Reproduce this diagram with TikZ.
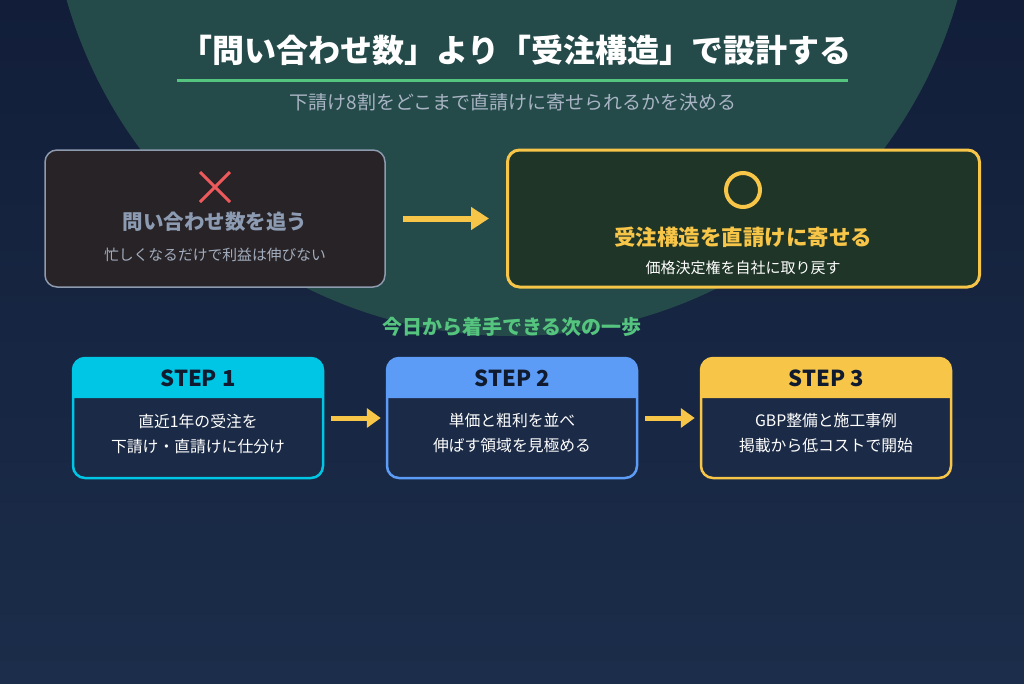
\documentclass[tikz,border=0pt]{standalone}
\usepackage{fontspec}
\setmainfont{Noto Sans CJK JP}
\usetikzlibrary{arrows.meta}
\definecolor{bgtop}{HTML}{121E39}
\definecolor{bgbot}{HTML}{1B2D4A}
\definecolor{tealc}{HTML}{244A4A}
\definecolor{greenc}{HTML}{55C47E}
\definecolor{subc}{HTML}{A9B4C4}
\definecolor{leftfill}{HTML}{272327}
\definecolor{leftdraw}{HTML}{8E9AAE}
\definecolor{lefttext}{HTML}{8C9BB2}
\definecolor{leftsub}{HTML}{A3ADBD}
\definecolor{redc}{HTML}{EE5A5C}
\definecolor{rightfill}{HTML}{1F3527}
\definecolor{yel}{HTML}{F7C548}
\definecolor{cyanc}{HTML}{00C6E6}
\definecolor{bluec}{HTML}{5C9CF6}
\definecolor{stepbg}{HTML}{1B2A46}
\definecolor{steptext}{HTML}{101B30}
\tikzset{
  x=1pt, y=-1pt,
  bigarrow/.style={draw=yel, line width=6pt, -{Triangle[length=18pt,width=22pt]}},
  smallarrow/.style={draw=yel, line width=5pt, -{Triangle[length=14pt,width=19pt]}},
  stepbox/.style={minimum width=250pt, minimum height=120pt, inner sep=0pt},
  steptitle/.style={font=\bfseries\fontsize{22}{25}\selectfont, text=steptext},
  steplines/.style={font=\fontsize{15.8}{25}\selectfont, text=white, align=center},
}
\begin{document}
\begin{tikzpicture}
\useasboundingbox (0,0) rectangle (1024,683);
\shade[top color=bgtop, bottom color=bgbot] (0,0) rectangle (1024,683);
\begin{scope}
\clip (0,0) rectangle (1024,683);
\fill[tealc] (512,-127) circle[radius=463pt];
\end{scope}

% title
\node[font=\bfseries\fontsize{32}{36}\selectfont, text=white] (title) at (516,50) {「問い合わせ数」より「受注構造」で設計する};
\draw[greenc, line width=3pt] (177,80) -- (848,80);
\node[font=\fontsize{19}{22}\selectfont, text=subc] (subtitle) at (513,102) {下請け8割をどこまで直請けに寄せられるかを決める};

% left box
\node[draw=leftdraw, fill=leftfill, line width=1.5pt, rounded corners=12pt, minimum width=340pt, minimum height=137pt, inner sep=0pt] (left) at (215,218.5) {};
\coordinate (xc) at (215,187);
\draw[redc, line width=3pt] ([shift={(-15pt,-15pt)}]xc) -- ([shift={(15pt,15pt)}]xc);
\draw[redc, line width=3pt] ([shift={(-15pt,15pt)}]xc) -- ([shift={(15pt,-15pt)}]xc);
\node[font=\bfseries\fontsize{20.5}{24}\selectfont, text=lefttext] (lt) at (215,222) {問い合わせ数を追う};
\node[font=\fontsize{14.8}{18}\selectfont, text=leftsub] (ls) at (215,255) {忙しくなるだけで利益は伸びない};

% right box
\node[draw=yel, fill=rightfill, line width=3pt, rounded corners=12pt, minimum width=472pt, minimum height=137pt, inner sep=0pt] (right) at (743.5,218.5) {};
\node[draw=yel, line width=4pt, circle, minimum size=34pt, inner sep=0pt] (okc) at (743,190) {};
\node[font=\bfseries\fontsize{21.5}{25}\selectfont, text=yel] (rt) at (743,237) {受注構造を直請けに寄せる};
\node[font=\fontsize{15}{18}\selectfont, text=white] (rs) at (743,268) {価格決定権を自社に取り戻す};

\draw[bigarrow] ([xshift=17pt]left.east) -- ([xshift=-17pt]right.west);

% next steps label
\node[font=\bfseries\fontsize{20}{23}\selectfont, text=greenc] (next) at (512,327) {今日から着手できる次の一歩};

% steps
\foreach \n/\cx/\col/\la/\lb in {1/198/cyanc/直近1年の受注を/下請け・直請けに仕分け, 2/512/bluec/単価と粗利を並べ/伸ばす領域を見極める, 3/826/yel/GBP整備と施工事例/掲載から低コストで開始}{
  \fill[stepbg, rounded corners=12pt] (\cx-125,358) rectangle (\cx+125,478);
  \fill[\col] (\cx-125,398) [rounded corners=12pt] -- (\cx-125,358) -- (\cx+125,358) [sharp corners] -- (\cx+125,398) -- cycle;
  \node[stepbox, draw=\col, line width=2.5pt, rounded corners=12pt] (s\n) at (\cx,418) {};
  \node[steptitle] (st\n) at (\cx,378) {STEP \n};
  \node[steplines] (sb\n) at (\cx,433.5) {\la\\\lb};
}
\draw[smallarrow] ([xshift=7pt]s1.east) -- ([xshift=-5pt]s2.west);
\draw[smallarrow] ([xshift=7pt]s2.east) -- ([xshift=-5pt]s3.west);
\end{tikzpicture}
\end{document}
